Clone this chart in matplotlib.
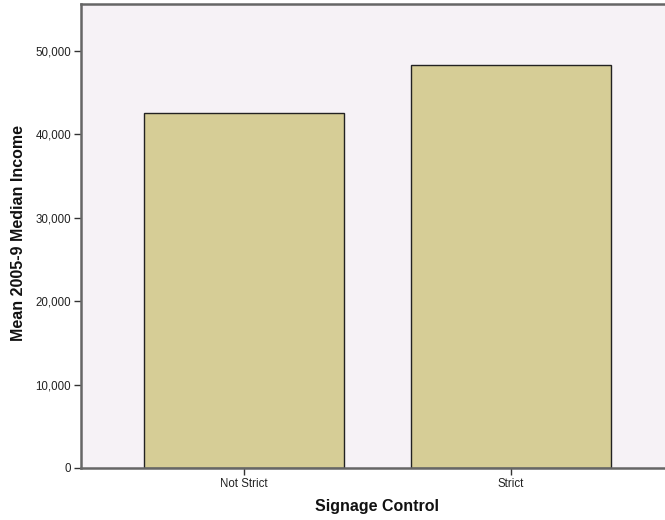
import matplotlib
matplotlib.use("Agg")
import matplotlib.pyplot as plt
from matplotlib.ticker import FuncFormatter

categories = ["Not Strict", "Strict"]
values = [42600, 48290]
yticks = [0, 10000, 20000, 30000, 40000, 50000]

plt.rcParams['font.family'] = ['Liberation Sans', 'DejaVu Sans']

fig = plt.figure(figsize=(6.65, 5.2), dpi=100)
W, H = 665, 520
left, right, top, bottom = 81, 665, 4, 468
ax = fig.add_axes([left / W, 1 - bottom / H, (right - left) / W, (bottom - top) / H])
ax.set_facecolor('#F6F2F6')

x = list(range(len(categories)))
ax.bar(x, values, width=0.75, color='#D6CD96', edgecolor='#222222', linewidth=1.0, zorder=2)

ax.set_xlim(-0.61, 1.577)
ax.set_ylim(0, 55630)
ax.set_yticks(yticks)
ax.yaxis.set_major_formatter(FuncFormatter(lambda v, p: f"{int(v):,}"))
ax.set_xticks(x)
ax.set_xticklabels(categories)

for s in ['left', 'top', 'bottom']:
    ax.spines[s].set_color('#666666')
    ax.spines[s].set_linewidth(1.8)
ax.spines['right'].set_visible(False)
ax.spines['bottom'].set_zorder(3)

ax.tick_params(axis='both', which='major', labelsize=8.3, colors='#333333', length=5, width=1.0, direction='out', pad=2)
ax.tick_params(axis='both', labelcolor='#222222')

fig.text(377 / W, 1 - 506 / H, 'Signage Control', fontsize=11.5, fontweight='bold',
         ha='center', va='center', color='#111111')
fig.text(18.5 / W, 1 - 233 / H, 'Mean 2005-9 Median Income', fontsize=11.5, fontweight='bold',
         ha='center', va='center', rotation=90, color='#111111')

fig.savefig('out.png', dpi=100)
